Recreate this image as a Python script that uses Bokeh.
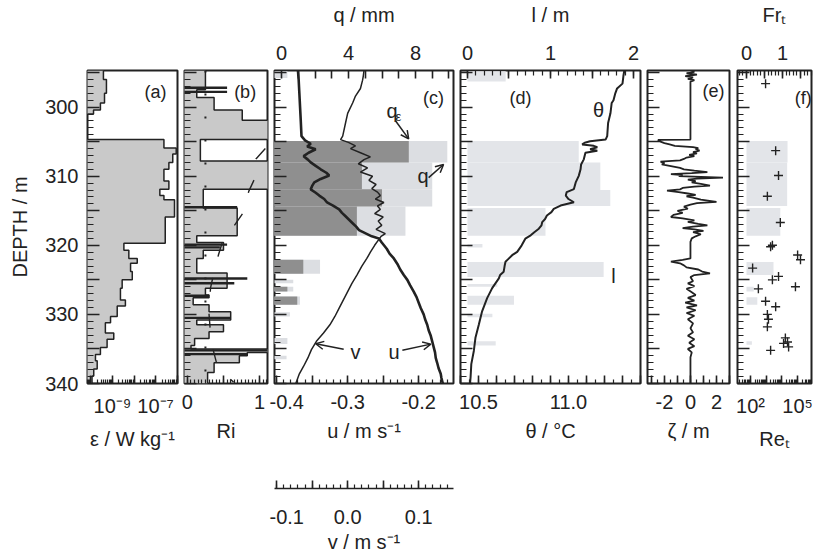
import json
import numpy as np
from bokeh.plotting import figure
from bokeh.models import (Range1d, LinearAxis, LogAxis, LinearScale, LogScale,
                          SingleIntervalTicker, LogTicker, CustomJSTickFormatter,
                          Label, Arrow, OpenHead, Span, Spacer)
from bokeh.layouts import row, column
from bokeh.embed import file_html
from bokeh.resources import INLINE

# ---------------- data ----------------
depth_top, depth_bottom = 294.7, 340.0

# (a) dissipation rate, step profile: bin edges (m) and log10(eps / W kg-1)
eps_edges = [294.7, 296.0, 298.0, 299.4, 300.4, 301.0, 304.7, 305.9, 306.8, 308.0,
             309.0, 310.7, 311.9, 312.8, 313.4, 315.9, 319.7, 320.7, 321.9, 322.6,
             323.8, 325.0, 326.2, 327.9, 328.8, 330.3, 331.2, 332.7, 333.6, 334.8,
             335.8, 336.7, 337.9, 338.9, 340.0]
eps_log10 = [-9.42, -9.28, -9.37, -9.56, -9.88, -11.0, -6.61, -6.04, -6.20, -6.38,
             -6.61, -6.38, -6.80, -6.61, -6.12, -6.55, -8.47, -8.24, -7.85, -8.16,
             -8.08, -8.55, -8.63, -8.40, -8.78, -9.09, -9.33, -8.94, -9.25, -9.56,
             -9.79, -9.71, -9.87, -9.95]

# (b) Richardson number, step profile
ri_edges = [294.7, 297.5, 298.6, 300.4, 301.9, 304.7, 307.8, 311.9, 314.6, 318.6,
            319.6, 320.7, 321.9, 324.0, 326.2, 327.2, 327.6, 328.6, 329.6, 330.8,
            331.5, 332.5, 333.5, 334.5, 335.0, 335.5, 336.0, 337.0, 338.4, 340.0]
ri_vals = [0.25, 0.13, 0.37, 0.76, 1.2, 0.18, 1.2, 0.22, 0.69, 0.13,
           0.50, 0.22, 0.13, 0.55, 0.25, 0.30, 0.08, 0.30, 0.60, 0.13,
           0.50, 0.30, 0.10, 0.05, 1.2, 0.83, 0.72, 0.37, 0.28]
ri_fine_depth = [297.2, 297.8, 314.5, 319.9, 320.3, 324.8, 325.5, 327.3, 330.5, 335.2, 335.75]
ri_fine_val = [0.55, 0.55, 0.69, 0.55, 0.45, 0.83, 0.65, 0.30, 0.60, 1.2, 0.83]
ri_smooth_depth = [306.0, 307.5, 309.5, 312.2, 315.2, 317.6, 319.0, 321.4, 324.3, 326.2,
                   330.0, 334.0, 337.7, 339.8]
ri_smooth_val = [1.08, 0.95, 0.97, 0.85, 0.78, 0.62, 0.50, 0.43, 0.36, 0.32,
                 0.30, 0.33, 0.42, 0.64]
ri_critical = 0.25

# (c) q and q_eps bars (mm), u and v profiles (m/s)
q_top = [294.8, 304.9, 308.0, 311.9, 314.4, 322.1, 325.0, 326.0, 327.4, 329.7, 333.4, 336.0]
q_bot = [295.8, 308.0, 311.9, 314.4, 318.6, 324.1, 325.5, 326.7, 328.6, 330.3, 334.3, 336.5]
q_val = [0.35, 9.9, 9.0, 9.0, 7.4, 2.3, 0.7, 0.7, 1.1, 0.5, 0.35, 0.3]
qeps_val = [0.0, 7.6, 4.8, 6.0, 4.5, 1.3, 0.0, 0.35, 0.94, 0.0, 0.0, 0.0]

u_depth = [294.7, 296.0, 298.0, 300.0, 302.0, 304.2, 304.8, 305.3, 305.7, 306.1,
           306.6, 307.1, 307.6, 308.0, 308.5, 309.0, 309.5, 309.9, 310.4, 310.9,
           311.4, 311.9, 312.4, 312.8, 313.3, 313.8, 314.3, 314.8, 315.3, 315.8,
           316.3, 316.8, 317.3, 317.8, 318.3, 318.7, 319.0, 319.6, 320.5, 321.2,
           321.9, 322.7, 323.5, 324.3, 325.0, 325.8, 326.7, 327.5, 328.3, 329.1,
           330.0, 330.7, 331.5, 332.3, 333.1, 333.9, 334.7, 335.5, 336.3, 337.0,
           337.8, 338.6, 339.2, 340.0]
u_val = [-0.370, -0.369, -0.368, -0.367, -0.366, -0.365, -0.360, -0.352, -0.357, -0.345,
         -0.355, -0.362, -0.356, -0.352, -0.345, -0.338, -0.330, -0.326, -0.338, -0.347,
         -0.350, -0.352, -0.345, -0.340, -0.333, -0.329, -0.320, -0.312, -0.308, -0.303,
         -0.298, -0.293, -0.288, -0.284, -0.274, -0.266, -0.256, -0.252, -0.245, -0.241,
         -0.235, -0.230, -0.226, -0.221, -0.216, -0.212, -0.207, -0.203, -0.200, -0.197,
         -0.193, -0.191, -0.188, -0.186, -0.183, -0.181, -0.179, -0.177, -0.176, -0.174,
         -0.172, -0.169, -0.168, -0.166]

v_depth = [294.7, 295.5, 296.1, 297.3, 298.4, 299.4, 300.9, 302.3, 304.2, 304.7,
           305.1, 305.6, 306.0, 306.6, 307.2, 307.6, 308.2, 308.8, 309.4, 310.0,
           310.6, 311.2, 311.8, 312.3, 312.8, 313.3, 313.8, 314.3, 314.8, 315.4,
           315.9, 316.5, 317.1, 317.7, 318.3, 318.7, 319.0, 320.0, 321.0, 321.9,
           323.0, 324.3, 325.5, 326.7, 327.9, 329.1, 330.3, 331.5, 332.7, 333.9,
           335.1, 336.3, 337.5, 338.6, 340.0]
v_val = [0.023, 0.022, 0.021, 0.018, 0.011, 0.007, 0.000, -0.003, -0.007, -0.010,
         0.001, 0.011, 0.004, 0.018, 0.032, 0.023, 0.015, 0.028, 0.018, 0.035,
         0.030, 0.040, 0.034, 0.042, 0.046, 0.039, 0.051, 0.042, 0.046, 0.038,
         0.050, 0.043, 0.048, 0.040, 0.053, 0.047, 0.045, 0.038, 0.032, 0.027,
         0.020, 0.013, 0.006, 0.000, -0.006, -0.012, -0.018, -0.025, -0.034, -0.044,
         -0.051, -0.056, -0.062, -0.068, -0.073]

# (d) overturn length bars (m) and potential temperature (deg C)
l_top = [294.8, 304.9, 308.0, 312.0, 314.6, 319.8, 322.4, 325.6, 327.3, 329.9, 333.9]
l_bot = [296.3, 308.0, 312.0, 314.3, 318.6, 320.3, 324.6, 326.0, 328.6, 330.4, 334.5]
l_val = [0.46, 1.34, 1.60, 1.72, 0.94, 0.18, 1.64, 0.36, 0.56, 0.30, 0.34]

theta_depth = [294.7, 295.5, 296.6, 297.3, 298.0, 299.0, 299.4, 300.9, 302.3, 304.2,
               304.7, 304.93, 305.15, 305.4, 305.6, 305.8, 306.1, 306.3, 306.6, 307.56,
               308.3, 309.0, 309.95, 310.9, 311.86, 312.3, 312.8, 313.3, 313.77, 314.25,
               314.73, 315.2, 315.69, 316.2, 316.64, 317.1, 317.6, 318.1, 318.56, 319.04,
               320.0, 320.95, 321.43, 322.0, 322.39, 323.0, 323.82, 324.3, 324.78, 326.2,
               327.64, 329.55, 331.47, 333.38, 335.29, 337.2, 339.1, 340.0]
theta_val = [11.310, 11.305, 11.300, 11.270, 11.260, 11.250, 11.240, 11.233, 11.220, 11.215,
             11.206, 11.120, 11.090, 11.076, 11.140, 11.160, 11.120, 11.160, 11.094, 11.085,
             11.070, 11.067, 11.057, 11.040, 11.030, 10.990, 10.985, 11.000, 11.030, 10.956,
             10.918, 10.905, 10.880, 10.870, 10.854, 10.850, 10.835, 10.810, 10.790, 10.760,
             10.740, 10.715, 10.687, 10.665, 10.650, 10.645, 10.640, 10.620, 10.613, 10.576,
             10.548, 10.520, 10.502, 10.483, 10.474, 10.460, 10.456, 10.453]

# (e) Thorpe displacement (m)
zeta_depth = [294.7, 294.9, 295.1, 295.3, 295.5, 295.7, 295.9, 296.1, 296.3, 304.7,
              304.75, 305.0, 305.2, 305.4, 305.6, 305.8, 305.95, 306.1, 306.3, 306.5,
              306.7, 306.9, 307.1, 307.3, 307.5, 307.7, 307.9, 308.1, 308.3, 308.5,
              308.8, 309.0, 309.2, 309.4, 309.55, 309.7, 309.85, 310.0, 310.2, 310.35,
              310.5, 310.7, 310.9, 311.1, 311.35, 311.5, 311.7, 311.9, 312.1, 312.3,
              312.5, 312.7, 312.9, 313.1, 313.4, 313.7, 313.9, 314.1, 314.4, 314.7,
              315.0, 315.3, 315.6, 315.9, 316.1, 316.4, 316.6, 316.9, 317.1, 317.3,
              317.5, 317.7, 317.9, 318.1, 318.4, 318.7, 319.0, 319.5, 321.9, 322.1,
              322.35, 322.6, 322.9, 323.2, 323.5, 323.8, 324.05, 324.3, 324.6, 325.2,
              325.5, 325.9, 326.3, 326.8, 327.2, 327.6, 328.0, 328.3, 328.7, 329.0,
              329.4, 329.8, 330.2, 330.7, 331.3, 332.0, 332.6, 333.1, 333.6, 334.1,
              334.6, 335.0, 335.5, 336.2, 340.0]
zeta_val = [0.0, 0.3, -0.3, 0.5, -0.4, 0.2, -0.2, 0.3, 0.0, 0.0,
            -2.5, -2.3, -2.0, -1.6, -1.2, 0.2, 0.6, 0.4, 0.7, 0.2,
            0.5, -0.1, 0.3, -0.3, -0.5, -0.8, -2.3, -2.0, -2.2, -1.6,
            -0.8, -0.5, 0.3, 1.3, 0.1, -1.5, -0.6, -0.9, 2.5, 0.5,
            -0.2, 0.4, 0.1, 0.8, 1.5, 0.3, -0.6, -0.8, -1.8, -0.9,
            -0.2, 0.4, -0.3, 0.2, 0.8, 2.0, 0.5, 0.0, -0.5, -0.2,
            -1.0, -0.6, -1.3, -1.5, -0.6, 0.3, -0.2, 0.6, 1.3, 0.2,
            -0.6, 0.3, 1.0, 0.2, 0.8, 0.4, 0.1, 0.0, 0.0, -0.6,
            -1.5, -0.8, -0.5, -0.3, 0.6, 0.9, 1.5, 0.3, 0.0, 0.2,
            -0.2, 0.3, -0.3, 0.1, 0.4, -0.2, 0.3, -0.4, 0.5, -0.3,
            0.4, -0.3, 0.3, -0.2, 0.2, 0.0, 0.2, -0.2, 0.3, -0.1,
            0.3, -0.2, 0.1, 0.0, 0.0]

# (f) turbulent Froude number: bars and individual estimates
fr_top = [304.9, 308.0, 312.0, 314.6, 322.4, 326.0, 327.5, 333.9]
fr_bot = [308.0, 312.0, 314.3, 318.6, 324.3, 326.7, 328.6, 334.4]
fr_bar = [1.14, 1.13, 1.13, 0.94, 0.75, 0.20, 0.30, 0.15]
frpt_depth = [296.6, 306.3, 309.9, 312.9, 316.7, 320.0, 320.2, 321.4, 322.1, 323.3,
              324.5, 325.0, 326.0, 326.3, 328.1, 328.9, 330.0, 330.7, 331.8, 333.4,
              334.0, 334.2, 334.7, 335.2]
frpt_val = [0.53, 0.81, 0.89, 0.58, 0.94, 0.72, 0.67, 1.42, 1.50, 0.17,
            0.89, 0.72, 1.36, 0.33, 0.53, 0.81, 0.58, 0.61, 0.58, 1.08,
            1.14, 1.03, 1.17, 0.67]

# tick labels
depth_labels = [300, 310, 320, 330, 340]
eps_label_exps = [-9, -7]
ri_labels = [0, 1]
u_labels = [-0.4, -0.3, -0.2]
v_labels = [-0.1, 0.0, 0.1]
q_labels = [0, 4, 8]
theta_labels = [10.5, 11.0]
l_labels = [0, 1, 2]
zeta_labels = [-2, 0, 2]
fr_labels = [0, 1]
re_label_exps = [2, 5]

# ---------------- styling ----------------
FONT = "Liberation Sans"
FS = "20px"
INK = "#222222"
GREY_AB = "#c9c9c9"
DARK_Q = "#8f8f8f"
LIGHT_Q = "#dcdee2"
LIGHT_L = "#e3e5e9"

TOP_B, FRAME_H, BOT_B = 67, 316, 77
H = TOP_B + FRAME_H + BOT_B

yr = Range1d(depth_bottom, depth_top)


def keep_fmt(vals, digits):
    code = ("const keep = %s; for (const k of keep) { if (Math.abs(tick - k) < 1e-6) {"
            " const t = Math.abs(tick) < 1e-9 ? 0 : tick; return t.toFixed(%d); } } return '';"
            % (json.dumps(vals), digits))
    return CustomJSTickFormatter(code=code)


def log_fmt(exps):
    code = ("const e = Math.round(Math.log10(tick)); const keep = %s;"
            " if (!keep.includes(e)) { return ''; }"
            " const sup = {'-':'\u207b','0':'\u2070','1':'\u00b9','2':'\u00b2','3':'\u00b3',"
            "'4':'\u2074','5':'\u2075','6':'\u2076','7':'\u2077','8':'\u2078','9':'\u2079'};"
            " return '10' + String(e).split('').map(c => sup[c]).join('');" % json.dumps(exps))
    return CustomJSTickFormatter(code=code)


def style_axis(ax, tick_in=8, minor_in=4, standoff=11, title=None, title_standoff=8):
    ax.axis_line_color = None
    ax.major_tick_in = tick_in
    ax.major_tick_out = 0
    ax.minor_tick_in = minor_in
    ax.minor_tick_out = 0
    ax.major_tick_line_color = INK
    ax.minor_tick_line_color = INK
    ax.major_tick_line_width = 1.6
    ax.minor_tick_line_width = 1.2
    ax.major_label_text_font = FONT
    ax.major_label_text_font_size = FS
    ax.major_label_text_color = INK
    ax.major_label_standoff = standoff
    if title is not None:
        ax.axis_label = title
        ax.axis_label_text_font = FONT
        ax.axis_label_text_font_size = FS
        ax.axis_label_text_font_style = "normal"
        ax.axis_label_text_color = INK
        ax.axis_label_standoff = title_standoff


def make_fig(frame_w, left_b, x_range, x_type="linear"):
    p = figure(width=left_b + frame_w + 2, height=H, x_range=x_range, y_range=yr,
               x_axis_type=x_type, x_axis_location=None, y_axis_location=None,
               toolbar_location=None, output_backend="svg",
               min_border_left=left_b, min_border_right=2,
               min_border_top=TOP_B, min_border_bottom=BOT_B)
    p.grid.visible = False
    p.outline_line_color = INK
    p.outline_line_width = 2
    p.background_fill_color = "white"
    p.border_fill_color = "white"
    return p


def add_depth_axis(p, labels):
    ax = LinearAxis(ticker=SingleIntervalTicker(interval=5, num_minor_ticks=5))
    if labels:
        style_axis(ax, tick_in=12, minor_in=6, standoff=9, title="DEPTH / m", title_standoff=11)
        ax.formatter = keep_fmt(depth_labels, 0)
    else:
        style_axis(ax, tick_in=12, minor_in=6, standoff=0)
        ax.formatter = CustomJSTickFormatter(code="return '';")
    p.add_layout(ax, "left")


def panel_label(p, x, y, text, size="18px", **kw):
    p.add_layout(Label(x=x, y=y, text=text, text_font=FONT, text_font_size=size,
                       text_color=INK, text_align="center", text_baseline="middle", **kw))


def step_xy(edges, vals):
    xs = np.repeat(np.asarray(vals, dtype=float), 2)
    e = np.asarray(edges, dtype=float)
    ys = np.column_stack([e[:-1], e[1:]]).ravel()
    return xs, ys


def step_fill(p, edges, vals, left):
    xs, ys = step_xy(edges, vals)
    px = np.concatenate([[left], xs, [left]])
    py = np.concatenate([[edges[0]], ys, [edges[-1]]])
    p.patch(px, py, fill_color=GREY_AB, line_color=None)
    p.line(xs, ys, line_color=INK, line_width=1.5)


# ---------------- (a) epsilon ----------------
pa = make_fig(90, 87, Range1d(10 ** -10.16, 10 ** -5.98), "log")
step_fill(pa, eps_edges, 10 ** np.asarray(eps_log10), 1e-12)
ax = LogAxis(ticker=LogTicker(num_minor_ticks=10))
style_axis(ax, title="\u03b5 / W kg\u207b\u00b9")
ax.formatter = log_fmt(eps_label_exps)
pa.add_layout(ax, "below")
add_depth_axis(pa, True)
panel_label(pa, 1e-7, 297.85, "(a)")

# ---------------- (b) Ri ----------------
pb = make_fig(83, 5, Range1d(-0.04, 1.11))
step_fill(pb, ri_edges, ri_vals, -0.2)
pb.segment(x0=[-0.2] * len(ri_fine_val), x1=ri_fine_val, y0=ri_fine_depth, y1=ri_fine_depth,
           line_color=INK, line_width=2.4)
pb.line(ri_smooth_val, ri_smooth_depth, line_color=INK, line_width=1.4, line_dash="14 22")
pb.add_layout(Span(location=ri_critical, dimension="height", line_color=INK,
                   line_width=2, line_dash="2 21"))
ax = LinearAxis(ticker=SingleIntervalTicker(interval=0.5, num_minor_ticks=10))
style_axis(ax, title="Ri")
ax.formatter = keep_fmt(ri_labels, 0)
pb.add_layout(ax, "below")
add_depth_axis(pb, False)
panel_label(pb, 0.8, 297.85, "(b)")

# ---------------- (c) q, u, v ----------------
u_range = Range1d(-0.403, -0.151)
v_range = Range1d(-0.103, 0.149)
pc = make_fig(179, 5, u_range)
pc.extra_x_ranges = {"q": Range1d(-0.42, 10.27), "v": v_range}
pc.extra_x_scales = {"q": LinearScale(), "v": LinearScale()}
qv = np.asarray(q_val); qe = np.asarray(qeps_val)
qt = np.asarray(q_top); qb = np.asarray(q_bot)
pc.quad(left=-1, right=qv, top=qt, bottom=qb, x_range_name="q",
        fill_color=LIGHT_Q, line_color=None)
m = qe > 0
pc.quad(left=-1, right=qe[m], top=qt[m], bottom=qb[m], x_range_name="q",
        fill_color=DARK_Q, line_color=None)
pc.line(v_val, v_depth, x_range_name="v", line_color=INK, line_width=1.5)
pc.line(u_val, u_depth, line_color=INK, line_width=2.6)
ax = LinearAxis(ticker=SingleIntervalTicker(interval=0.05, num_minor_ticks=5))
style_axis(ax, title="u / m s\u207b\u00b9")
ax.formatter = keep_fmt(u_labels, 1)
pc.add_layout(ax, "below")
ax = LinearAxis(x_range_name="q", ticker=SingleIntervalTicker(interval=1, num_minor_ticks=0))
style_axis(ax, minor_in=0, standoff=11, title="q / mm", title_standoff=17)
ax.formatter = keep_fmt(q_labels, 0)
pc.add_layout(ax, "above")
add_depth_axis(pc, False)
panel_label(pc, -0.179, 298.7, "(c)")
panel_label(pc, -0.2375, 300.5, "q", size="20px")
panel_label(pc, -0.2285, 301.3, "\u03b5", size="13px")
head = dict(size=8, line_color=INK, line_width=1.5)
pc.add_layout(Arrow(end=OpenHead(**head), x_start=-0.2324, y_start=302.0, x_end=-0.2141,
                    y_end=304.6, line_color=INK, line_width=1.5))
panel_label(pc, -0.194, 309.9, "q", size="20px")
pc.add_layout(Arrow(end=OpenHead(**head), x_start=-0.186, y_start=310.2, x_end=-0.165,
                    y_end=308.3, line_color=INK, line_width=1.5))
panel_label(pc, -0.289, 335.4, "v", size="20px")
pc.add_layout(Arrow(end=OpenHead(**head), x_start=-0.3056, y_start=335.05, x_end=-0.345,
                    y_end=334.25, line_color=INK, line_width=1.5))
panel_label(pc, -0.2348, 335.5, "u", size="20px")
pc.add_layout(Arrow(end=OpenHead(**head), x_start=-0.223, y_start=335.2, x_end=-0.183,
                    y_end=334.3, line_color=INK, line_width=1.5))

# ---------------- (d) l, theta ----------------
pd_ = make_fig(180, 5, Range1d(10.4, 11.4))
pd_.extra_x_ranges = {"l": Range1d(-0.084, 2.084)}
pd_.extra_x_scales = {"l": LinearScale()}
pd_.quad(left=0, right=l_val, top=l_top, bottom=l_bot, x_range_name="l",
         fill_color=LIGHT_L, line_color=None)
pd_.line(theta_val, theta_depth, line_color=INK, line_width=2.0)
ax = LinearAxis(ticker=SingleIntervalTicker(interval=0.1, num_minor_ticks=2))
style_axis(ax, title="\u03b8 / \u00b0C")
ax.formatter = keep_fmt(theta_labels, 1)
pd_.add_layout(ax, "below")
ax = LinearAxis(x_range_name="l", ticker=SingleIntervalTicker(interval=0.5, num_minor_ticks=5))
style_axis(ax, minor_in=5, standoff=11, title="l / m", title_standoff=17)
ax.formatter = keep_fmt(l_labels, 0)
pd_.add_layout(ax, "above")
add_depth_axis(pd_, False)
panel_label(pd_, 10.733, 298.7, "(d)")
panel_label(pd_, 11.167, 300.4, "\u03b8", size="20px")
panel_label(pd_, 11.25, 324.5, "l", size="20px")

# ---------------- (e) zeta ----------------
pe = make_fig(82, 5, Range1d(-3.3, 3.0))
pe.line(zeta_val, zeta_depth, line_color=INK, line_width=1.8)
ax = LinearAxis(ticker=SingleIntervalTicker(interval=1, num_minor_ticks=2))
style_axis(ax, title="\u03b6 / m")
ax.formatter = keep_fmt(zeta_labels, 0)
pe.add_layout(ax, "below")
add_depth_axis(pe, False)
panel_label(pe, 1.77, 297.7, "(e)")

# ---------------- (f) Fr_t, Re_t ----------------
pf = make_fig(74, 6, Range1d(-0.25, 1.806))
pf.extra_x_ranges = {"re": Range1d(10 ** 1.17, 10 ** 5.89)}
pf.extra_x_scales = {"re": LogScale()}
pf.quad(left=0, right=fr_bar, top=fr_top, bottom=fr_bot, fill_color=LIGHT_L, line_color=None)
pf.scatter(frpt_val, frpt_depth, marker="cross", size=9, line_color=INK, line_width=1.4)
ax = LogAxis(x_range_name="re", ticker=LogTicker(num_minor_ticks=10))
style_axis(ax, title="Re\u209c")
ax.formatter = log_fmt(re_label_exps)
pf.add_layout(ax, "below")
ax = LinearAxis(ticker=SingleIntervalTicker(interval=0.5, num_minor_ticks=5))
style_axis(ax, minor_in=5, standoff=11, title="Fr\u209c", title_standoff=17)
ax.formatter = keep_fmt(fr_labels, 0)
pf.add_layout(ax, "above")
add_depth_axis(pf, False)
panel_label(pf, 1.58, 298.7, "(f)")

# ---------------- v axis below panel (c) ----------------
pv = figure(width=5 + 179 + 2, height=99, x_range=v_range, y_range=Range1d(0, 1),
            x_axis_location=None, y_axis_location=None, toolbar_location=None,
            output_backend="svg", min_border_left=5, min_border_right=2,
            min_border_top=18, min_border_bottom=71)
pv.grid.visible = False
pv.outline_line_color = None
ax = LinearAxis(ticker=SingleIntervalTicker(interval=0.05, num_minor_ticks=5))
style_axis(ax, title="v / m s\u207b\u00b9", standoff=21, title_standoff=4)
ax.axis_line_color = INK
ax.axis_line_width = 1.6
ax.formatter = keep_fmt(v_labels, 1)
pv.add_layout(ax, "below")

layout = column(row(pa, pb, pc, pd_, pe, pf),
                row(Spacer(width=269, height=99), pv))

open("out.html", "w").write(file_html(layout, INLINE))
